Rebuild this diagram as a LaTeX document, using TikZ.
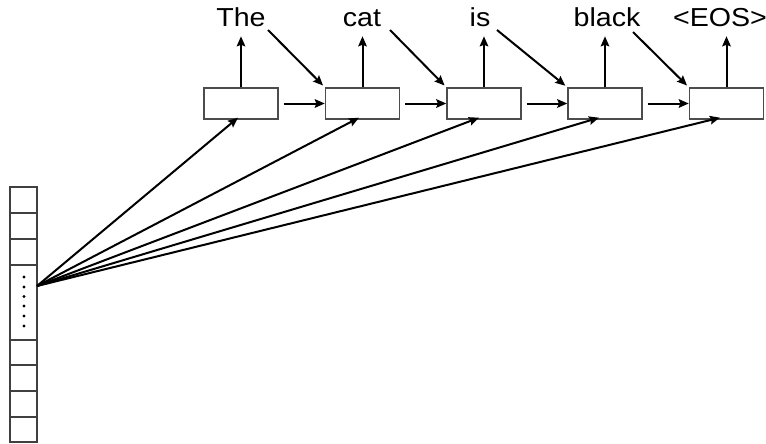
\documentclass[tikz,border=0pt]{standalone}
\usepackage{fontspec}
\setmainfont{Liberation Sans}[FakeStretch=1.1]
\usetikzlibrary{arrows.meta,calc}
\begin{document}
\begin{tikzpicture}[x=1pt,y=-1pt,
  cell/.style={draw=black!75,line width=1.1pt,minimum width=27pt,inner sep=0pt,outer sep=0pt},
  rnn/.style={draw=black!70,line width=1.4pt,minimum width=74pt,minimum height=31pt,inner sep=0pt,fill=white},
  word/.style={anchor=base,inner sep=0pt,font=\fontsize{26}{28}\selectfont},
  arr/.style={line width=2pt,-{Stealth[length=10pt,width=8.5pt,inset=1.5pt]}},
  dot/.style={circle,fill=black,inner sep=0pt,minimum size=3.2pt}]
\useasboundingbox (0,0) rectangle (766,444);

% vector of encoder states
\node[cell,minimum height=26pt] (c1) at (23.5,200) {};
\node[cell,minimum height=26pt] (c2) at (23.5,226) {};
\node[cell,minimum height=26pt] (c3) at (23.5,252) {};
\node[cell,minimum height=75pt] (c4) at (23.5,302.5) {};
\node[cell,minimum height=25pt] (c5) at (23.5,352.5) {};
\node[cell,minimum height=26pt] (c6) at (23.5,378) {};
\node[cell,minimum height=26pt] (c7) at (23.5,404) {};
\node[cell,minimum height=25pt] (c8) at (23.5,429.5) {};
\foreach \y [count=\i] in {277,287,296.5,306,316,326}
  \node[dot] (dt\i) at (24,\y) {};
\coordinate (src) at (37,286);

% decoder cells
\node[rnn] (b1) at (241,103.5) {};
\node[rnn] (b2) at (362.5,103.5) {};
\node[rnn] (b3) at (484,103.5) {};
\node[rnn] (b4) at (605,103.5) {};
\node[rnn] (b5) at (726.5,103.5) {};

% output words
\node[word] (w1) at (241,26.7) {The};
\node[word] (w2) at (362,26.7) {cat};
\node[word] (w3) at (480,26.7) {is};
\node[word] (w4) at (607,26.7) {black};
\node[word] (w5) at (720,26.7) {<EOS>};

% outputs
\foreach \i in {1,...,5}
  \draw[arr] (b\i.north) -- ++(0,-51);

% recurrent links
\foreach \i/\j in {1/2,2/3,3/4,4/5}
  \draw[arr] ([xshift=5pt]b\i.east) -- (b\j.west);

% previous word fed back in
\coordinate (d1) at (268,30);
\coordinate (d2) at (390,30);
\coordinate (d3) at (497,30);
\coordinate (d4) at (633,32);
\foreach \i/\j in {1/2,2/3,3/4,4/5}
  \draw[arr,shorten >=2.5pt] (d\i) -- (b\j.north west);

% context from the encoder
\draw[arr] (src) -- ([xshift=-3pt,yshift=2pt]b1.south);
\draw[arr] (src) -- ([xshift=-3.5pt,yshift=2pt]b2.south);
\draw[arr] (src) -- ([xshift=-5pt,yshift=2pt]b3.south);
\draw[arr] (src) -- ([xshift=-6pt,yshift=2pt]b4.south);
\draw[arr] (src) -- ([xshift=-6.5pt,yshift=2pt]b5.south);
\end{tikzpicture}
\end{document}
